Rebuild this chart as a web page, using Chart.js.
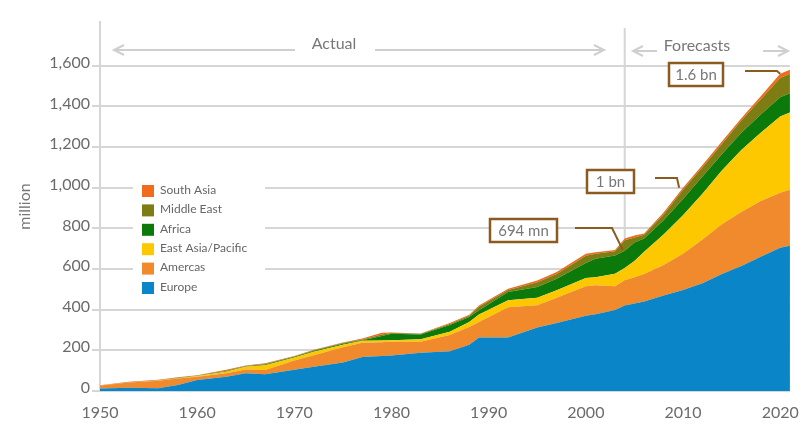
<!DOCTYPE html>
<html>
<head>
<meta charset="utf-8">
<script src="https://cdn.jsdelivr.net/npm/chart.js@4.4.1/dist/chart.umd.min.js"></script>
<style>
  body { margin: 0; background: #fff; }
  canvas { display: block; }
</style>
</head>
<body>
<canvas id="arrivalsChart" width="811" height="425"></canvas>
<script>
// international tourist arrivals by region, million
var years = [1950, 1953, 1956, 1958, 1960, 1963, 1965, 1967, 1970, 1972, 1975, 1977, 1979, 1980, 1983, 1986, 1988, 1989, 1992, 1995, 1997, 2000, 2001, 2003, 2004, 2005, 2006, 2008, 2010, 2012, 2014, 2016, 2018, 2020, 2021];
var europe = [12, 16, 13, 30, 54, 70, 87, 82, 105, 119, 140, 167, 172, 175, 188, 196, 228, 263, 263, 312, 335, 370, 377, 398, 420, 430, 440, 470, 497, 530, 575, 615, 660, 705, 715];
var americas = [15, 26, 38, 31, 16, 17, 19, 21, 45, 57, 75, 70, 68, 67, 54, 79, 87, 77, 149, 110, 124, 145, 143, 117, 125, 130, 135, 150, 178, 215, 245, 265, 275, 270, 275];
var eastAsia = [0, 0, 1, 2, 4, 8, 13, 24, 15, 17, 13, 10, 8, 8, 13, 16, 25, 36, 34, 37, 36, 41, 40, 62, 60, 80, 110, 150, 190, 225, 265, 305, 335, 375, 380];
var africa = [0, 0, 0, 1, 0, 2, 2, 3, 3, 4, 4, 3, 22, 32, 23, 34, 24, 21, 41, 52, 57, 74, 90, 90, 85, 90, 65, 70, 80, 85, 80, 85, 90, 95, 95];
var middleEast = [0, 1, 1, 2, 2, 3, 2, 3, 2, 3, 4, 3, 8, 3, 3, 5, 6, 18, 10, 24, 23, 35, 25, 21, 52, 25, 18, 28, 45, 45, 50, 60, 75, 95, 95];
var southAsia = [1, 2, 2, 2, 2, 4, 2, 4, 2, 3, 2, 5, 8, 3, 2, 5, 5, 5, 6, 9, 10, 10, 8, 6, 8, 10, 7, 10, 10, 12, 12, 12, 15, 20, 20];

var regionNames = ["Europe", "Amercas", "East Asia/Pacific", "Africa", "Middle East", "South Asia"];
var regionColors = ["#0a86c8", "#f08a2c", "#fdc800", "#0b7a0b", "#7e7d13", "#f26a1b"];
var regionValues = [europe, americas, eastAsia, africa, middleEast, southAsia];

var xTicks = [1950, 1960, 1970, 1980, 1990, 2000, 2010, 2020];
var yTicks = [0, 200, 400, 600, 800, 1000, 1200, 1400, 1600];
var forecastFrom = 2004;

var calloutText = ["694 mn", "1 bn", "1.6 bn"];
var calloutYear = [2003.8, 2009.6, 2020];
var calloutValue = [694, 1000, 1560];

var FONT = "Lato, 'Open Sans', sans-serif";
var GRID = "#d6d6d6";
var BROWN = "#8a5a1e";

function arrow(ctx, x1, x2, y, headLeft, headRight) {
  ctx.beginPath();
  ctx.moveTo(x1, y);
  ctx.lineTo(x2, y);
  if (headLeft) {
    ctx.moveTo(x1 + 10, y - 5);
    ctx.lineTo(x1, y);
    ctx.lineTo(x1 + 10, y + 5);
  }
  if (headRight) {
    ctx.moveTo(x2 - 10, y - 5);
    ctx.lineTo(x2, y);
    ctx.lineTo(x2 - 10, y + 5);
  }
  ctx.stroke();
}

var decor = {
  id: "decor",
  beforeDatasetsDraw: function (chart) {
    var ctx = chart.ctx;
    var x = chart.scales.x.getPixelForValue(forecastFrom);
    ctx.save();
    ctx.strokeStyle = GRID;
    ctx.lineWidth = 2;
    ctx.beginPath();
    ctx.moveTo(x, 28);
    ctx.lineTo(x, chart.chartArea.bottom);
    ctx.stroke();
    ctx.restore();
  },
  afterDatasetsDraw: function (chart) {
    var ctx = chart.ctx;
    var xs = chart.scales.x, ys = chart.scales.y;
    ctx.save();

    // legend box sits over the gridlines
    ctx.fillStyle = "#fff";
    ctx.fillRect(133, 179, 132, 117);
    ctx.font = "12px " + FONT;
    ctx.textBaseline = "middle";
    for (var i = 0; i < regionNames.length; i++) {
      var k = regionNames.length - 1 - i;
      var ly = 191 + i * 19.4;
      ctx.fillStyle = regionColors[k];
      ctx.fillRect(142, ly - 6, 12, 12);
      ctx.fillStyle = "#666";
      ctx.fillText(regionNames[k], 160, ly - 1);
    }

    // callouts
    var boxes = [
      { x: 490, y: 219, w: 67, sx: 575, kx: 612, ky: 228 },
      { x: 587, y: 170, w: 47, sx: 655, kx: 677, ky: 178 },
      { x: 669, y: 63, w: 54, sx: 745, kx: 777, ky: 71 }
    ];
    for (var j = 0; j < calloutText.length; j++) {
      var b = boxes[j];
      var ex = xs.getPixelForValue(calloutYear[j]);
      var ey = ys.getPixelForValue(calloutValue[j]);
      ctx.strokeStyle = BROWN;
      ctx.lineWidth = 2;
      ctx.beginPath();
      ctx.moveTo(b.sx, b.ky);
      ctx.lineTo(b.kx, b.ky);
      ctx.lineTo(ex, ey);
      ctx.stroke();
      ctx.fillStyle = "#fff";
      ctx.fillRect(b.x, b.y, b.w, 23);
      ctx.lineWidth = 2.5;
      ctx.strokeRect(b.x, b.y, b.w, 23);
      ctx.fillStyle = "#777";
      ctx.font = "15px " + FONT;
      ctx.textAlign = "center";
      ctx.fillText(calloutText[j], b.x + b.w / 2, b.y + 12);
      ctx.textAlign = "left";
    }
    ctx.restore();
  },
  afterDraw: function (chart) {
    var ctx = chart.ctx;
    ctx.save();
    ctx.strokeStyle = "#cfcfcf";
    ctx.lineWidth = 2;
    arrow(ctx, 114, 295, 50, true, false);
    arrow(ctx, 375, 604, 50, false, true);
    arrow(ctx, 633, 657, 51, true, false);
    arrow(ctx, 763, 788, 51, false, true);
    ctx.fillStyle = "#777";
    ctx.font = "16px " + FONT;
    ctx.textBaseline = "middle";
    ctx.textAlign = "center";
    ctx.fillText("Actual", 334, 44);
    ctx.fillText("Forecasts", 697, 46);
    ctx.restore();
  }
};

var datasets = regionNames.map(function (name, i) {
  return {
    label: name,
    data: regionValues[i].map(function (v, j) { return { x: years[j], y: v }; }),
    backgroundColor: regionColors[i],
    borderWidth: 0,
    pointRadius: 0,
    tension: 0,
    fill: i === 0 ? "origin" : "-1"
  };
});

var chart = new Chart(document.getElementById("arrivalsChart").getContext("2d"), {
  type: "line",
  data: { datasets: datasets },
  plugins: [decor],
  options: {
    responsive: false,
    animation: false,
    layout: { padding: { top: 22, right: 18, left: 0, bottom: 0 } },
    plugins: { legend: { display: false }, tooltip: { enabled: false } },
    scales: {
      x: {
        type: "linear",
        min: 1950,
        max: 2021,
        afterBuildTicks: function (scale) {
          scale.ticks = xTicks.map(function (v) { return { value: v }; });
        },
        afterFit: function (scale) { scale.height = 34; },
        grid: { display: false, drawTicks: false },
        border: { display: false },
        ticks: {
          padding: 12,
          maxRotation: 0,
          color: "#6b6b6b",
          font: { family: FONT, size: 16 },
          callback: function (v) { return String(v); }
        }
      },
      y: {
        stacked: true,
        min: 0,
        max: 1815,
        afterBuildTicks: function (scale) {
          scale.ticks = yTicks.map(function (v) { return { value: v }; });
        },
        afterFit: function (scale) { scale.width = 100; },
        grid: { color: GRID, lineWidth: 2, tickLength: 8 },
        border: { display: true, color: GRID, width: 2 },
        ticks: {
          padding: 2,
          labelOffset: -3,
          color: "#6b6b6b",
          font: { family: FONT, size: 16 },
          callback: function (v) { return v.toLocaleString("en-US"); }
        },
        title: {
          display: true,
          text: "million",
          color: "#777",
          font: { family: FONT, size: 16 },
          padding: { top: 15, bottom: 0 }
        }
      }
    }
  }
});
</script>
</body>
</html>
